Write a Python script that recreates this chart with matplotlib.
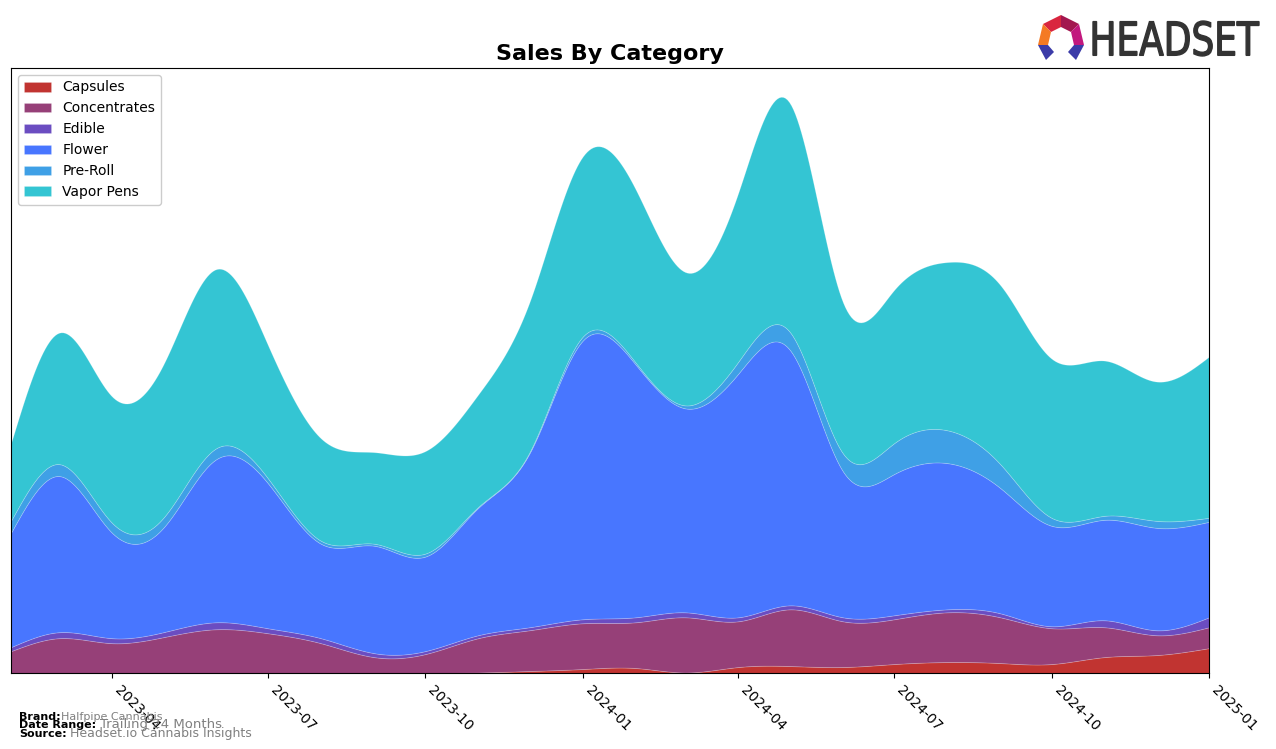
import numpy as np
import pandas as pd
import matplotlib
matplotlib.use("Agg")
import matplotlib.pyplot as plt
import matplotlib.dates as mdates
from matplotlib.patches import Polygon, PathPatch
from matplotlib.textpath import TextPath
from matplotlib.font_manager import FontProperties
from matplotlib.transforms import Affine2D

# monthly sales by category (relative units)
months = pd.date_range("2023-02-01", periods=24, freq="MS")
categories = ["Capsules", "Concentrates", "Edible", "Flower", "Pre-Roll", "Vapor Pens"]
capsules = [0, 0, 0, 0, 0, 0, 0, 0, 0, 0.5, 2, 4, 5, 0.5, 6, 7, 6, 9, 11, 10, 9, 16, 18, 25]
concentrates = [22, 35, 30, 36, 44, 40, 30, 16, 19, 34.5, 41, 46, 46, 55.5, 46, 57, 46, 45, 50, 46, 36, 30, 20, 21]
edible = [4, 6, 5, 5, 7, 5, 5, 4, 3, 3, 3, 4, 5, 5, 4, 4, 4, 4, 3, 4, 2, 7, 5, 10]
flower = [115, 157, 106, 105, 164, 146, 95, 108, 95, 128, 175, 280, 254, 205, 245, 257, 147, 142, 147, 126, 101, 101, 103, 96]
preroll = [12, 12, 10, 10, 11, 5, 3, 2, 3, 1, 1, 4, 2, 3, 12, 18, 18, 31, 33, 24, 8, 4, 7, 4]
vapor = [78, 132, 127, 154, 180, 134, 103, 92, 103, 113, 151, 181, 174, 134, 170, 230, 152, 154, 169, 180, 160, 156, 140, 162]

colors = ["#c13431", "#964078", "#6b4dc1", "#4876ff", "#3fa0e6", "#34c5d3"]


def smooth(xn, y, xs):
    # natural cubic spline through the monthly points, only for drawing
    y = np.asarray(y, float)
    n = len(xn)
    h = np.diff(xn)
    A = np.zeros((n, n))
    b = np.zeros(n)
    A[0, 0] = A[-1, -1] = 1
    for i in range(1, n - 1):
        A[i, i - 1] = h[i - 1]
        A[i, i] = 2 * (h[i - 1] + h[i])
        A[i, i + 1] = h[i]
        b[i] = 6 * ((y[i + 1] - y[i]) / h[i] - (y[i] - y[i - 1]) / h[i - 1])
    M = np.linalg.solve(A, b)
    k = np.clip(np.searchsorted(xn, xs) - 1, 0, n - 2)
    t0 = xs - xn[k]
    t1 = xn[k + 1] - xs
    hk = h[k]
    out = (M[k] * t1**3 + M[k + 1] * t0**3) / (6 * hk) \
        + (y[k] / hk - M[k] * hk / 6) * t1 + (y[k + 1] / hk - M[k + 1] * hk / 6) * t0
    return np.clip(out, 0, None)


xn = mdates.date2num(months.to_pydatetime())
xs = np.linspace(xn[0], xn[-1], 600)
series = [capsules, concentrates, edible, flower, preroll, vapor]
ys = [smooth(xn, s, xs) for s in series]

fig = plt.figure(figsize=(12.76, 7.49), dpi=100)
ax = fig.add_axes([11 / 1276, 1 - 673 / 749, 1198 / 1276, 605 / 749])

ax.stackplot(xs, *ys, labels=categories, colors=colors,
             edgecolor=(1, 1, 1, 0.2), linewidth=0.6)

ax.set_xlim(xn[0], xn[-1])
total = np.sum(ys, axis=0)
ax.set_ylim(0, total.max() * 1.05)
ax.set_yticks([])
ax.xaxis.set_major_locator(mdates.MonthLocator(bymonth=[1, 4, 7, 10]))
ax.xaxis.set_major_formatter(mdates.DateFormatter("%Y-%m"))
for lab in ax.get_xticklabels():
    lab.set_rotation(-45)
    lab.set_ha("left")
ax.tick_params(axis="x", labelsize=10)

ax.set_title("Sales By Category", fontsize=16, fontweight="bold", pad=6)
ax.legend(loc="upper left", fontsize=10, framealpha=1)

# footer
fig.text(19 / 1276, 1 - 720 / 749, "Brand:", fontsize=8, fontweight="bold")
fig.text(61 / 1276, 1 - 720 / 749, "Halfpipe Cannabis", fontsize=8, color="grey")
fig.text(19 / 1276, 1 - 728 / 749, "Date Range:", fontsize=8, fontweight="bold")
fig.text(100 / 1276, 1 - 728 / 749, "Trailing 24 Months", fontsize=9.5, color="grey")
fig.text(19 / 1276, 1 - 737 / 749, "Source:", fontsize=8, fontweight="bold")
fig.text(70 / 1276, 1 - 737 / 749, "Headset.io Cannabis Insights", fontsize=9, color="grey")

# logo
W, H = 1276, 749


def fp(pts):
    return [(px / W, 1 - py / H) for px, py in pts]


icon = [
    ([(1043, 24), (1061, 15), (1061, 27), (1051, 32)], "#d9263f"),
    ([(1061, 15), (1079, 24), (1071, 32), (1061, 27)], "#a3174f"),
    ([(1079, 24), (1084, 45), (1074, 45), (1071, 32)], "#c2187e"),
    ([(1043, 24), (1051, 32), (1048, 45), (1038, 45)], "#f47a24"),
    ([(1038, 45), (1048, 45), (1054, 52), (1046, 60)], "#3b3ba8"),
    ([(1084, 45), (1074, 45), (1068, 52), (1076, 60)], "#3b3ba8"),
]
for pts, c in icon:
    fig.patches.append(Polygon(fp(pts), closed=True, facecolor=c,
                               edgecolor="none", transform=fig.transFigure))

tp = TextPath((0, 0), "HEADSET", size=1, prop=FontProperties(family="DejaVu Sans"))
ext = tp.get_extents()
sx = (1259 - 1093) / W / ext.width
sy = (56 - 21) / H / ext.height
tr = Affine2D().translate(-ext.x0, -ext.y0).scale(sx, sy).translate(1093 / W, 1 - 56 / H)
fig.patches.append(PathPatch(tr.transform_path(tp), facecolor="#333333",
                             edgecolor="#333333", linewidth=1.0,
                             transform=fig.transFigure))

fig.savefig("out.png", dpi=100)
